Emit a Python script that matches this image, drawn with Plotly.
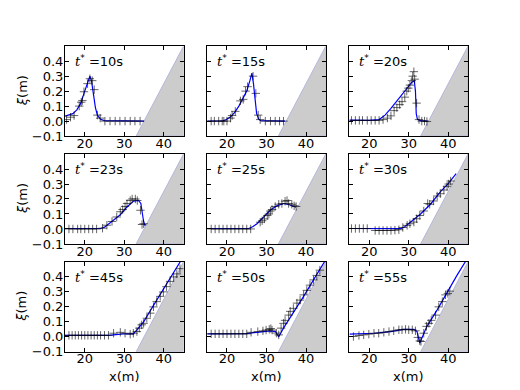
import plotly.graph_objects as go
from plotly.subplots import make_subplots

# snapshot times (s)
times = [10, 15, 20, 23, 25, 30, 45, 50, 55]

# beach profile (1:20 slope starting at x=33)
beach_x = [33, 45, 45, 33]
beach_y = [-0.1, 0.5, -0.1, -0.1]

# model (blue line)
model_x_10 = [15, 16, 17, 18, 19, 20, 20.8, 21.3, 21.7, 22.2, 22.7, 23.2, 24, 25, 30, 35]
model_y_10 = [0.033, 0.04, 0.05, 0.075, 0.12, 0.2, 0.27, 0.30, 0.27, 0.17, 0.09, 0.04, 0.012, 0.003, 0, 0]
model_x_15 = [15, 19, 20, 21, 22, 23, 24, 25, 25.8, 26.3, 26.7, 27.1, 27.5, 28, 28.5, 34.7]
model_y_15 = [0, 0.002, 0.012, 0.03, 0.06, 0.1, 0.15, 0.2, 0.27, 0.32, 0.25, 0.13, 0.05, 0.015, 0.003, 0]
model_x_20 = [15, 20, 22.5, 24, 25.5, 27, 28.5, 29.6, 30.8, 31.4, 31.7, 31.9, 32.2, 33, 34.8]
model_y_20 = [0.007, 0.005, 0.01, 0.04, 0.085, 0.135, 0.185, 0.225, 0.26, 0.27, 0.2, 0.05, 0.012, 0.003, 0]
model_x_23 = [15, 24, 25, 26.4, 28, 29, 30.6, 32.3, 33.6, 34.2, 34.6, 34.9, 35.3]
model_y_23 = [0.003, 0.003, 0.012, 0.04, 0.07, 0.095, 0.145, 0.185, 0.19, 0.17, 0.1, 0.05, 0.02]
model_x_25 = [15, 25.5, 26.5, 27.6, 29.3, 31, 32.6, 34.3, 36, 37.5]
model_y_25 = [0.003, 0.003, 0.015, 0.035, 0.08, 0.126, 0.154, 0.17, 0.16, 0.145]
model_x_30 = [15, 22, 28, 29, 30.4, 33, 35.5, 38, 40.1, 42]
model_y_30 = [0.003, 0.0, 0.002, 0.015, 0.046, 0.1, 0.165, 0.248, 0.306, 0.37]
model_x_45 = [15, 26, 29.8, 32.3, 33.2, 34.9, 37.4, 39.9, 42.5, 44.6]
model_y_45 = [0.01, 0.01, 0.02, 0.02, 0.047, 0.1, 0.21, 0.32, 0.435, 0.52]
model_x_50 = [15, 25, 27.6, 31, 32.3, 33.1, 34.3, 36.8, 39.4, 41.9, 44.4, 45]
model_y_50 = [0.02, 0.022, 0.03, 0.04, 0.035, 0.0, 0.058, 0.158, 0.27, 0.38, 0.49, 0.515]
model_x_55 = [15, 21.2, 25.4, 28.7, 31.3, 32.1, 32.8, 34.6, 37.2, 39.7, 42.2, 44.3, 45]
model_y_55 = [0.018, 0.024, 0.035, 0.05, 0.05, 0.035, -0.042, 0.07, 0.18, 0.3, 0.41, 0.5, 0.53]

# measurements (black crosses)
obs_x_10 = [15.4, 16.4, 17.3, 18.6, 19.1, 19.4, 19.8, 20.7, 21.3, 21.9, 22.4, 23.2, 23.9,
            25.1, 26.4, 27.7, 28.9, 30.2, 31.5, 32.7, 34]
obs_y_10 = [0.01, 0.026, 0.037, 0.1, 0.126, 0.137, 0.196, 0.25, 0.283, 0.27, 0.21, 0.04, 0.02,
            0, 0, 0, 0, 0, 0, 0, 0]
obs_x_15 = [16, 16.8, 17.9, 18.8, 19.2, 20, 20.9, 21.3, 22.1, 23.4, 24.1, 24.7, 25.2, 26.6,
            27.3, 27.9, 28.4, 29.7, 31, 32.2, 33.3, 34.3]
obs_y_15 = [0, 0, 0, 0, 0, 0, 0.02, 0.037, 0.065, 0.135, 0.145, 0.2, 0.23, 0.3,
            0.185, 0.04, 0.01, 0, 0, 0, 0, 0]
obs_x_20 = [15.5, 16.5, 17.5, 18.3, 19.5, 20.5, 21.5, 22.5, 23.5, 24.6, 25.5, 26.3, 27, 27.7,
            28.3, 29, 29.5, 29.9, 30.3, 30.8, 31, 31.3, 31.5, 32, 32.6, 33.3, 34, 34.6]
obs_y_20 = [0.005, 0.005, 0.005, 0.005, 0.005, 0.005, 0.005, 0.005, 0.01, 0.02, 0.035, 0.07,
            0.09, 0.11, 0.13, 0.16, 0.2, 0.22, 0.24, 0.27, 0.3, 0.33, 0.28, 0.12, 0.01, 0, 0, -0.003]
obs_x_23 = [16, 17, 18.2, 19, 20, 21, 22, 23, 24.5, 25.6, 26.9, 28.1, 29, 29.6, 30.2, 30.7,
            31.5, 32, 32.8, 33.3, 34.1, 34.5, 34.9]
obs_y_23 = [0, 0, 0, 0, 0, 0, 0, 0, 0.005, 0.025, 0.05, 0.08, 0.115, 0.13, 0.15, 0.17,
            0.19, 0.2, 0.2, 0.19, 0.125, 0.03, 0.035]
obs_x_25 = [16, 17, 18, 19, 20, 21, 22, 23, 24, 25, 26, 28.4, 28.9, 29.5, 30.2, 30.6, 31,
            31.4, 32.2, 33.1, 33.9, 34.7, 35.2, 35.6, 36.4, 37, 37.5]
obs_y_25 = [0, 0, 0, 0, 0, 0, 0, 0, 0, 0, 0, 0.045, 0.055, 0.067, 0.09, 0.1, 0.12,
            0.13, 0.15, 0.165, 0.17, 0.185, 0.19, 0.17, 0.165, 0.155, 0.15]
obs_x_30 = [15.5, 16.5, 17.5, 18.5, 19.5, 21.5, 22.5, 23.5, 24.5, 25.5, 26.5, 27.5, 28.5,
            29.6, 30.3, 31.3, 32, 32.8, 33.8, 34.8, 35.3, 36.3, 37.2, 38, 38.9, 39.7, 40.1, 40.6]
obs_y_30 = [0.003, 0.003, 0.003, 0.003, 0.003, -0.01, -0.01, -0.01, -0.01, -0.01, -0.008,
            -0.005, 0.01, 0.024, 0.035, 0.046, 0.068, 0.09, 0.12, 0.17, 0.165, 0.187, 0.22,
            0.235, 0.26, 0.285, 0.3, 0.32]
obs_x_45 = [16, 16.8, 17.6, 18.4, 19.2, 20, 20.8, 21.6, 22.4, 23.2, 24, 25, 26, 27.3, 29,
            30.2, 31.5, 32.3, 33.2, 33.8, 34.4, 34.9, 35.7, 36.6, 37.4, 38.2, 39.1, 39.9,
            40.7, 41.6, 42.5, 43.3, 44.1]
obs_y_45 = [0.01, 0.01, 0.01, 0.01, 0.01, 0.01, 0.01, 0.01, 0.01, 0.01, 0.01, 0.01, 0.01,
            0.024, 0.03, 0.024, 0.018, 0.024, 0.035, 0.058, 0.08, 0.09, 0.124, 0.158, 0.2,
            0.235, 0.27, 0.3, 0.335, 0.37, 0.4, 0.42, 0.455]
obs_x_50 = [16, 17, 18, 19, 20, 21, 22, 23, 24, 25, 26.1, 27.8, 29.1, 29.9, 30.7, 31.1, 31.4,
            32.5, 33.1, 33.7, 34.3, 34.7, 35.6, 36, 36.8, 37.7, 38.5, 39.4, 40.2, 41, 41.9,
            42.7, 43.5]
obs_y_50 = [0.02, 0.02, 0.02, 0.02, 0.02, 0.02, 0.02, 0.02, 0.02, 0.02, 0.03, 0.035, 0.04,
            0.045, 0.05, 0.055, 0.045, 0.025, 0.013, 0.058, 0.09, 0.11, 0.145, 0.17, 0.19,
            0.225, 0.245, 0.28, 0.31, 0.345, 0.38, 0.41, 0.445]
obs_x_55 = [16, 17.4, 18.6, 19.9, 21.2, 22.4, 23.7, 25, 26.2, 27.5, 28.3, 29.2, 30, 30.9,
            31.7, 32.3, 32.8, 33.1, 33.8, 34.5, 35.1, 35.7, 36.8, 37.6, 38.5, 39.3, 39.9, 40.4]
obs_y_55 = [0.002, 0.009, 0.013, 0.018, 0.024, 0.024, 0.03, 0.035, 0.04, 0.047, 0.047, 0.05,
            0.047, 0.047, 0.04, -0.004, -0.027, -0.031, 0.024, 0.07, 0.09, 0.11, 0.145, 0.2,
            0.235, 0.28, 0.29, 0.305]

models = [(model_x_10, model_y_10), (model_x_15, model_y_15), (model_x_20, model_y_20),
          (model_x_23, model_y_23), (model_x_25, model_y_25), (model_x_30, model_y_30),
          (model_x_45, model_y_45), (model_x_50, model_y_50), (model_x_55, model_y_55)]
obs = [(obs_x_10, obs_y_10), (obs_x_15, obs_y_15), (obs_x_20, obs_y_20),
       (obs_x_23, obs_y_23), (obs_x_25, obs_y_25), (obs_x_30, obs_y_30),
       (obs_x_45, obs_y_45), (obs_x_50, obs_y_50), (obs_x_55, obs_y_55)]

FONT = "DejaVu Sans"
FS = 13

# page shifts the figure 8px to the right, so shrink the width by that
# and map window pixel positions into paper coordinates
W, H, OFF = 520, 390, 8
FW, FH = W - OFF, H


def px_x(p):
    return (p - OFF) / FW


def px_y(p):
    return (H - p) / FH


# matplotlib default subplot geometry (in window pixels)
cw = 0.775 / 3.4 * W
rh = 0.8 / 3.4 * H
col_dom = [[px_x(0.125 * W + c * 1.2 * cw), px_x(0.125 * W + c * 1.2 * cw + cw)] for c in range(3)]
row_dom = [[px_y(0.1 * H + r * 1.2 * rh + rh), px_y(0.1 * H + r * 1.2 * rh)] for r in range(3)]

fig = make_subplots(rows=3, cols=3)

for i, t in enumerate(times):
    r, c = i // 3, i % 3
    fig.add_trace(go.Scatter(x=beach_x, y=beach_y, mode="lines", fill="toself",
                             fillcolor="#cccccc", line=dict(color="#b4b6dc", width=1),
                             hoverinfo="skip"), row=r + 1, col=c + 1)
    fig.add_trace(go.Scatter(x=models[i][0], y=models[i][1], mode="lines",
                             line=dict(color="#0000ff", width=1.2)), row=r + 1, col=c + 1)
    fig.add_trace(go.Scatter(x=obs[i][0], y=obs[i][1], mode="markers",
                             marker=dict(symbol="cross-thin", size=6,
                                         line=dict(color="rgba(0,0,0,0.6)", width=1))),
                  row=r + 1, col=c + 1)
    fig.update_xaxes(domain=col_dom[c], range=[15, 45], tickvals=[20, 30, 40],
                     row=r + 1, col=c + 1)
    fig.update_yaxes(domain=row_dom[r], range=[-0.1, 0.5],
                     tickvals=[-0.1, 0.0, 0.1, 0.2, 0.3, 0.4], tickformat=".1f",
                     showticklabels=(c == 0), row=r + 1, col=c + 1)
    xref = "x" if i == 0 else "x%d" % (i + 1)
    yref = "y" if i == 0 else "y%d" % (i + 1)
    fig.add_annotation(x=17, y=0.4, xref=xref, yref=yref, xanchor="left", yanchor="middle",
                       showarrow=False,
                       text="<span style='font-family:DejaVu Serif'><i>t</i></span>"
                            "<sup>*</sup> =%ds" % t,
                       font=dict(family=FONT, size=FS, color="black"))

fig.update_xaxes(showline=True, linecolor="black", linewidth=1, mirror="ticks",
                 ticks="inside", ticklen=4, tickcolor="black", showgrid=False,
                 zeroline=False, ticklabelstandoff=-5,
                 tickfont=dict(family=FONT, size=FS, color="black"))
fig.update_yaxes(showline=True, linecolor="black", linewidth=1, mirror="ticks",
                 ticks="inside", ticklen=4, tickcolor="black", showgrid=False,
                 zeroline=False, ticklabelstandoff=-2,
                 tickfont=dict(family=FONT, size=FS, color="black"))

for r in range(3):
    fig.add_annotation(x=px_x(22), y=sum(row_dom[r]) / 2, xref="paper", yref="paper",
                       xanchor="center", yanchor="middle",
                       text="<i>ξ</i>(m)", textangle=-90, showarrow=False,
                       font=dict(family=FONT, size=FS, color="black"))
for c in range(3):
    fig.add_annotation(x=sum(col_dom[c]) / 2, y=px_y(376), xref="paper", yref="paper",
                       xanchor="center", yanchor="middle",
                       text="x(m)", showarrow=False,
                       font=dict(family=FONT, size=FS, color="black"))

fig.update_layout(width=FW, height=FH, margin=dict(l=0, r=0, t=0, b=0),
                  showlegend=False, plot_bgcolor="white", paper_bgcolor="white")

fig.write_html("out.html")
